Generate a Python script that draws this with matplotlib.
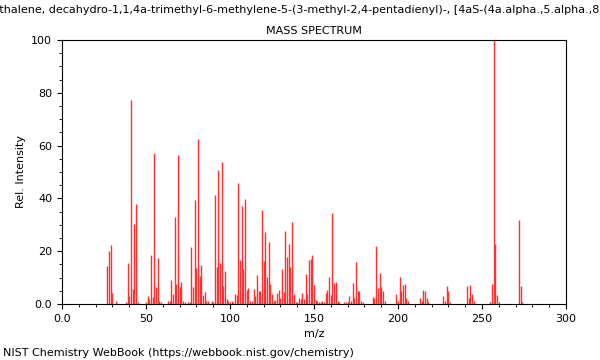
import matplotlib
matplotlib.use("Agg")
import matplotlib.pyplot as plt
from matplotlib.ticker import MultipleLocator, FuncFormatter

COMPOUND = ("Naphthalene, decahydro-1,1,4a-trimethyl-6-methylene-5-(3-methyl-2,4-pentadienyl)-, "
            "[4aS-(4a.alpha.,5.alpha.,8a.beta.)]-")
FOOTER = "NIST Chemistry WebBook (https://webbook.nist.gov/chemistry)"

# m/z values and relative intensities
mz = [27, 28, 29, 30, 32,
      38, 39, 40, 41, 42, 43, 44, 45,
      50, 51, 52, 53, 54, 55, 56, 57, 58, 59,
      63, 64, 65, 66, 67, 68, 69, 70, 71, 72, 73,
      75, 76, 77, 78, 79, 80, 81, 82, 83, 84, 85, 86, 87,
      89, 90, 91, 92, 93, 94, 95, 96, 97, 98, 99, 100, 101, 102, 103, 104,
      105, 106, 107, 108, 109, 110, 111, 112, 113, 114, 115, 116, 117, 118,
      119, 120, 121, 122, 123, 124, 125, 126, 127, 128, 129, 130, 131, 132,
      133, 134, 135, 136, 137, 138, 139, 140, 141, 142, 143, 144, 145, 146,
      147, 148, 149, 150, 151, 152, 153, 154, 155, 156, 157, 158, 159, 160,
      161, 162, 163, 164, 165,
      168, 169, 170, 171, 172, 173, 174, 175, 176, 177, 178, 179,
      185, 186, 187, 188, 189, 190, 191, 192,
      199, 200, 201, 202, 203, 204, 205, 206,
      213, 214, 215, 216, 217, 218,
      227, 228, 229, 230, 231,
      241, 242, 243, 244, 245,
      255, 256, 257, 258, 259, 260,
      272, 273, 274]
intensity = [14.4, 20, 22.3, 4.3, 1.1,
             0.8, 15.4, 3.2, 77.3, 5.7, 30.3, 37.9, 0.8,
             0.8, 3.2, 2, 18.7, 2.6, 57.3, 6.6, 17.5, 1.3, 0.8,
             1.1, 1.1, 9.1, 3.8, 33, 7.4, 56.3, 6.4, 8.3, 1.1, 0.8,
             0.8, 0.8, 21.7, 6.4, 39.4, 13.6, 62.4, 10.6, 14.8, 3.5, 4.4, 1.1, 1.1,
             1.1, 0.8, 41.3, 13.9, 50.6, 15.4, 53.8, 6.8, 12.6, 1.9, 1.3, 0.9, 1.3, 0.9, 3.7, 3.4,
             46, 16.7, 37.1, 13.4, 39.8, 5.3, 6.2, 1.1, 1.1, 5.7, 3.2, 11, 4.9, 4.9,
             35.6, 16.4, 27.4, 10.1, 23.6, 7.4, 3.8, 1.1, 1.6, 4, 5.3, 2.1, 13.3, 4.4,
             27.8, 17.7, 22.6, 14, 30.9, 3.7, 0.8, 0.8, 2.1, 1.8, 4, 1.8, 11.2, 3.8,
             16.7, 16.9, 18.4, 7.1, 1.6, 1.3, 0.9, 0.9, 1.3, 0.9, 4, 5.3, 10.1, 3.4,
             34.3, 7.8, 8.2, 1.3, 0.9,
             0.8, 0.8, 0.9, 3, 1, 8.1, 2.4, 15.8, 4.9, 5, 1.3, 0.8,
             2.5, 2.1, 22.1, 5.9, 11.9, 6.3, 5, 1,
             3.7, 1, 10.1, 5, 7.2, 7.6, 2.4, 1,
             2.4, 1, 5.3, 5, 2.2, 0.8,
             3.2, 1, 6.9, 5, 0.8,
             6.8, 2.2, 7.2, 3.8, 1.3,
             0.9, 7.4, 100, 22.6, 3.4, 0.8,
             32, 7, 0.8]

plt.rcParams["font.family"] = "DejaVu Sans"
plt.rcParams["font.size"] = 8

fig = plt.figure(figsize=(6, 3.6), dpi=100)
ax = fig.add_axes([0.1033, 0.1556, 0.84, 0.7333])

ax.vlines(mz, 0, intensity, colors="#ff3030", linewidth=1.0)

ax.set_xlim(0, 300)
ax.set_ylim(0, 100)
ax.xaxis.set_major_locator(MultipleLocator(50))
ax.xaxis.set_minor_locator(MultipleLocator(10))
ax.yaxis.set_major_locator(MultipleLocator(20))
ax.yaxis.set_minor_locator(MultipleLocator(5))
fmt = FuncFormatter(lambda v, p: "0.0" if v == 0 else "%d" % v)
ax.xaxis.set_major_formatter(fmt)
ax.yaxis.set_major_formatter(fmt)
ax.tick_params(labelsize=8)

ax.set_xlabel("m/z", fontsize=8)
ax.set_ylabel("Rel. Intensity", fontsize=8)
ax.set_title("MASS SPECTRUM", fontsize=8, pad=4)

# long compound name, centred and clipped by the figure edges like the original
fig.text(0.517, 0.972, COMPOUND, ha="center", va="center", fontsize=8)
fig.text(0.005, 0.02, FOOTER, ha="left", va="center", fontsize=8)

fig.savefig("out.png", dpi=100)
